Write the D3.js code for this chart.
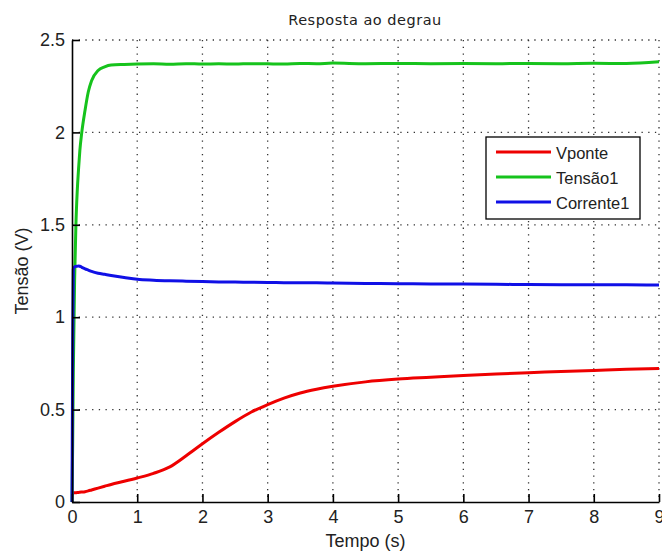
<!DOCTYPE html>
<html>
<head>
<meta charset="utf-8">
<script src="https://cdn.jsdelivr.net/npm/d3@7"></script>
<style>
  body { margin: 0; background: #fff; }
  svg { display: block; font-family: "Liberation Sans", Arial, sans-serif; }
  .grid line { stroke: #333; stroke-width: 1.3; stroke-dasharray: 1.3,5.4; }
  .axis path, .axis line { stroke: #000; stroke-width: 1.6; }
  .axis text { font-size: 18px; fill: #222; }
</style>
</head>
<body>
<svg id="chart" width="662" height="554"></svg>
<script>
// tempo (s)
var tempo = [0, 0.01, 0.02, 0.04, 0.06, 0.08, 0.1, 0.12, 0.15, 0.2, 0.25, 0.3, 0.4, 0.5, 0.6, 0.8,
  1, 1.25, 1.5, 1.75, 2, 2.25, 2.5, 2.75, 3, 3.25, 3.5, 3.75, 4, 4.5, 5, 5.5, 6, 6.5, 7, 7.5, 8, 8.5, 9];

var vponte = [0.045, 0.048, 0.05, 0.05, 0.05, 0.052, 0.052, 0.053, 0.054, 0.056, 0.06, 0.065, 0.075, 0.085, 0.095, 0.112,
  0.13, 0.155, 0.19, 0.25, 0.315, 0.377, 0.435, 0.487, 0.527, 0.562, 0.59, 0.61, 0.626, 0.65, 0.665, 0.675, 0.685, 0.693, 0.7, 0.706, 0.712, 0.718, 0.722];

var tensao1 = [0.0, 0.3, 0.7, 1.2, 1.5, 1.68, 1.8, 1.9, 2.0, 2.12, 2.22, 2.28, 2.335, 2.355, 2.365, 2.368,
  2.37, 2.371, 2.369, 2.372, 2.37, 2.371, 2.37, 2.372, 2.371, 2.37, 2.373, 2.372, 2.375, 2.372, 2.373, 2.372, 2.373, 2.372, 2.373, 2.372, 2.374, 2.373, 2.382];

var corrente1 = [0.0, 0.8, 1.26, 1.272, 1.275, 1.276, 1.277, 1.276, 1.27, 1.262, 1.255, 1.248, 1.238, 1.232, 1.226, 1.215,
  1.205, 1.2, 1.197, 1.195, 1.193, 1.191, 1.19, 1.189, 1.188, 1.187, 1.186, 1.186, 1.185, 1.183, 1.181, 1.18, 1.179, 1.178, 1.177, 1.176, 1.175, 1.175, 1.174];

var series = [
  {name: "Vponte", values: vponte, color: "#ee0000"},
  {name: "Tensão1", values: tensao1, color: "#16c31c"},
  {name: "Corrente1", values: corrente1, color: "#1010e6"}
];

var xTicks = [0, 1, 2, 3, 4, 5, 6, 7, 8, 9];
var yTicks = [0, 0.5, 1, 1.5, 2, 2.5];

var margin = {top: 40, right: 3, bottom: 52, left: 72};
var width = 662 - margin.left - margin.right;
var height = 554 - margin.top - margin.bottom;

var svg = d3.select("#chart");
var g = svg.append("g").attr("transform", "translate(" + margin.left + "," + margin.top + ")");

var x = d3.scaleLinear().domain([0, 9]).range([0, width]);
var y = d3.scaleLinear().domain([0, 2.5]).range([height, 0]);

// grid
var grid = g.append("g").attr("class", "grid");
grid.selectAll("line.v").data(xTicks.slice(1)).enter().append("line")
  .attr("class", "v")
  .attr("x1", function(d) { return x(d); }).attr("x2", function(d) { return x(d); })
  .attr("y1", 0).attr("y2", height);
grid.selectAll("line.h").data(yTicks.slice(1)).enter().append("line")
  .attr("class", "h")
  .attr("x1", 0).attr("x2", width)
  .attr("y1", function(d) { return y(d); }).attr("y2", function(d) { return y(d); });

// curves
var line = d3.line()
  .x(function(d, i) { return x(tempo[i]); })
  .y(function(d) { return y(d); })
  .curve(d3.curveMonotoneX);

series.forEach(function(s) {
  g.append("path")
    .datum(s.values)
    .attr("fill", "none")
    .attr("stroke", s.color)
    .attr("stroke-width", 3)
    .attr("stroke-linejoin", "round")
    .attr("d", line);
});

// axes
g.append("g").attr("class", "axis")
  .attr("transform", "translate(0," + height + ")")
  .call(d3.axisBottom(x).tickValues(xTicks).tickFormat(d3.format("d"))
    .tickSizeInner(-8).tickSizeOuter(0).tickPadding(8));
g.append("g").attr("class", "axis")
  .call(d3.axisLeft(y).tickValues(yTicks).tickFormat(function(d) { return String(d); })
    .tickSizeInner(-8).tickSizeOuter(0).tickPadding(7));

// title and labels
svg.append("text")
  .attr("x", 365).attr("y", 25)
  .attr("text-anchor", "middle")
  .style("font-family", "'DejaVu Sans', sans-serif")
  .style("font-size", "14.5px").style("letter-spacing", "0.5px").style("fill", "#222")
  .text("Resposta ao degrau");

svg.append("text")
  .attr("x", margin.left + width / 2).attr("y", 547)
  .attr("text-anchor", "middle")
  .style("font-size", "18px").style("fill", "#222")
  .text("Tempo (s)");

svg.append("text")
  .attr("transform", "translate(28," + (margin.top + height / 2) + ") rotate(-90)")
  .attr("text-anchor", "middle")
  .style("font-size", "18px").style("fill", "#222")
  .text("Tensão (V)");

// legend
var legend = svg.append("g").attr("transform", "translate(486,137)");
legend.append("rect")
  .attr("width", 154).attr("height", 82)
  .attr("fill", "#fff").attr("stroke", "#000").attr("stroke-width", 1.3);
series.forEach(function(s, i) {
  var ry = 15 + i * 25;
  legend.append("line")
    .attr("x1", 10).attr("x2", 65).attr("y1", ry).attr("y2", ry)
    .attr("stroke", s.color).attr("stroke-width", 3);
  legend.append("text")
    .attr("x", 70).attr("y", ry + 7)
    .style("font-size", "16.5px").style("fill", "#222")
    .text(s.name);
});
</script>
</body>
</html>
